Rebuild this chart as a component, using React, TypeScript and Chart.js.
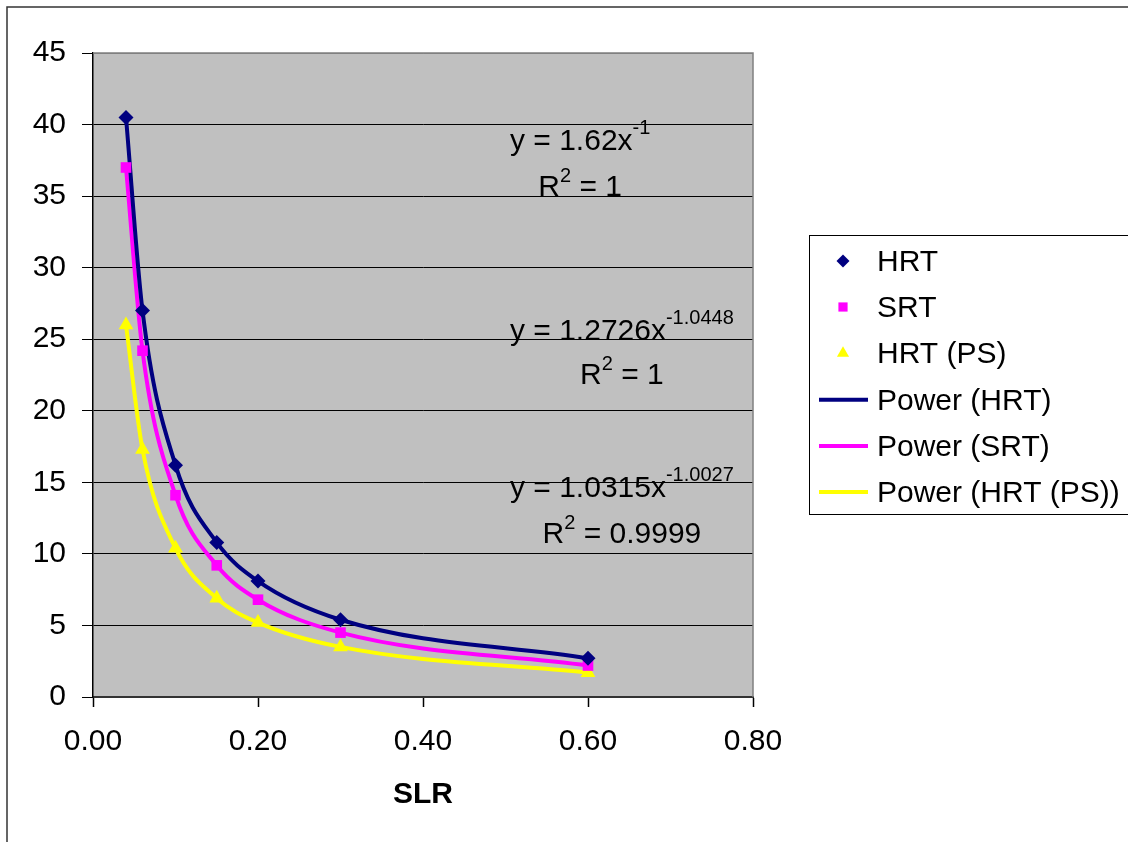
import React, { useEffect, useRef } from "react";
import { Chart, registerables } from "chart.js";

Chart.register(...registerables);

// ---- data ----
const slr = [0.04, 0.06, 0.1, 0.15, 0.2, 0.3, 0.6];
const hrt = [40.5, 27.0, 16.2, 10.8, 8.1, 5.4, 2.7];
const srt = [37.0, 24.2, 14.1, 9.2, 6.8, 4.5, 2.2];
const hrtPs = [26.0, 17.3, 10.4, 6.9, 5.2, 3.5, 1.7];

const xTicks = [0, 0.2, 0.4, 0.6, 0.8];
const yTicks = [0, 5, 10, 15, 20, 25, 30, 35, 40, 45];

const seriesNames = ["HRT", "SRT", "HRT (PS)"];
const trendNames = ["Power (HRT)", "Power (SRT)", "Power (HRT (PS))"];
const eqMain = ["y = 1.62x", "y = 1.2726x", "y = 1.0315x"];
const eqExp = ["-1", "-1.0448", "-1.0027"];
const eqR2 = ["1", "1", "0.9999"];
const xTitle = "SLR";

// ---- styles ----
const FONT = "'Liberation Sans', Arial, Helvetica, sans-serif";
const colors = ["#000080", "#FF00FF", "#FFFF00"];
const markers = ["rectRot", "rect", "triangle"];
const markerRadius = [7.5, 7.5, 8.5];
const eqPos = [
  { x: 510, y: 150, r2y: 196 },
  { x: 510, y: 340, r2y: 384 },
  { x: 510, y: 497, r2y: 543 },
];
const legendRows = [271, 317, 363.3, 409.7, 456, 502];

function drawMarker(ctx: CanvasRenderingContext2D, style: string, x: number, y: number, r: number, color: string) {
  ctx.save();
  ctx.fillStyle = color;
  ctx.beginPath();
  if (style === "rectRot") {
    ctx.moveTo(x, y - r);
    ctx.lineTo(x + r, y);
    ctx.lineTo(x, y + r);
    ctx.lineTo(x - r, y);
  } else if (style === "rect") {
    const s = r * Math.SQRT1_2;
    ctx.rect(x - s, y - s, 2 * s, 2 * s);
  } else {
    const h = r * 1.5;
    ctx.moveTo(x, y - r);
    ctx.lineTo(x + r * 0.866, y + h - r);
    ctx.lineTo(x - r * 0.866, y + h - r);
  }
  ctx.closePath();
  ctx.fill();
  ctx.restore();
}

const decorPlugin = {
  id: "decor",
  beforeDraw(chart: any) {
    const { ctx, chartArea: a, width, height } = chart;
    ctx.save();
    ctx.fillStyle = "#ffffff";
    ctx.fillRect(0, 0, width, height);
    ctx.fillStyle = "#C0C0C0";
    ctx.fillRect(a.left, a.top, a.right - a.left, a.bottom - a.top);
    // outer frame
    ctx.strokeStyle = "#333333";
    ctx.lineWidth = 1.5;
    ctx.strokeRect(7, 7, width + 50, height + 50);
    ctx.restore();
  },
  afterDraw(chart: any) {
    const { ctx, chartArea: a } = chart;
    ctx.save();
    // plot border (top/right gray)
    ctx.strokeStyle = "#808080";
    ctx.lineWidth = 1.5;
    ctx.beginPath();
    ctx.moveTo(a.left, a.top);
    ctx.lineTo(a.right, a.top);
    ctx.lineTo(a.right, a.bottom);
    ctx.stroke();

    // equations
    ctx.fillStyle = "#000";
    ctx.textBaseline = "alphabetic";
    ctx.textAlign = "left";
    for (let i = 0; i < eqMain.length; i++) {
      const p = eqPos[i];
      ctx.font = `30px ${FONT}`;
      const w1 = ctx.measureText(eqMain[i]).width;
      ctx.fillText(eqMain[i], p.x, p.y);
      ctx.font = `20px ${FONT}`;
      const w2 = ctx.measureText(eqExp[i]).width;
      ctx.fillText(eqExp[i], p.x + w1, p.y - 16);
      const center = p.x + (w1 + w2) / 2;
      // R^2 line
      ctx.font = `30px ${FONT}`;
      const wR = ctx.measureText("R").width;
      const rest = " = " + eqR2[i];
      const wRest = ctx.measureText(rest).width;
      ctx.font = `20px ${FONT}`;
      const w2s = ctx.measureText("2").width;
      const total = wR + w2s + wRest;
      const x0 = center - total / 2;
      ctx.font = `30px ${FONT}`;
      ctx.fillText("R", x0, p.r2y);
      ctx.font = `20px ${FONT}`;
      ctx.fillText("2", x0 + wR, p.r2y - 14);
      ctx.font = `30px ${FONT}`;
      ctx.fillText(rest, x0 + wR + w2s, p.r2y);
    }

    // legend
    ctx.strokeStyle = "#000";
    ctx.lineWidth = 1;
    ctx.strokeRect(809.5, 235.5, 500, 279);
    ctx.font = `30px ${FONT}`;
    const names = [...seriesNames, ...trendNames];
    names.forEach((name, i) => {
      const base = legendRows[i];
      const cy = base - 10;
      if (i < 3) {
        drawMarker(ctx, markers[i], 843, cy, i === 2 ? 7 : 6.5, colors[i]);
      } else {
        ctx.strokeStyle = colors[i - 3];
        ctx.lineWidth = 4;
        ctx.beginPath();
        ctx.moveTo(819, cy);
        ctx.lineTo(868, cy);
        ctx.stroke();
      }
      ctx.fillStyle = "#000";
      ctx.fillText(name, 877, base);
    });
    ctx.restore();
  },
};

const pts = (ys: number[]) => slr.map((x, i) => ({ x, y: ys[i] }));

export default function App() {
  const ref = useRef<HTMLCanvasElement | null>(null);
  useEffect(() => {
    if (!ref.current) return;
    Chart.defaults.font.family = FONT;
    const seriesData = [hrt, srt, hrtPs];
    const markerSets = seriesData.map((ys, i) => ({
      label: seriesNames[i],
      data: pts(ys),
      showLine: false,
      pointStyle: markers[i],
      pointRadius: markerRadius[i],
      backgroundColor: colors[i],
      borderColor: colors[i],
      borderWidth: 0,
    }));
    const trendSets = seriesData.map((ys, i) => ({
      label: trendNames[i],
      data: pts(ys),
      showLine: true,
      pointRadius: 0,
      borderColor: colors[i],
      borderWidth: 4,
      cubicInterpolationMode: "monotone",
      fill: false,
    }));
    const chart = new Chart(ref.current, {
      type: "scatter",
      data: { datasets: [...markerSets, ...trendSets] as any },
      options: {
        animation: false,
        responsive: false,
        devicePixelRatio: 1,
        layout: { padding: { top: 53, right: 375, left: 0, bottom: 0 } },
        plugins: { legend: { display: false }, tooltip: { enabled: false } },
        scales: {
          x: {
            type: "linear",
            min: 0,
            max: 0.8,
            afterBuildTicks: (s: any) => {
              s.ticks = xTicks.map((v) => ({ value: v }));
            },
            afterFit: (s: any) => {
              s.height = 145;
            },
            ticks: {
              padding: 17,
              color: "#000",
              font: { size: 30 },
              maxRotation: 0,
              callback: (v: any) => Number(v).toFixed(2),
            },
            grid: { drawOnChartArea: false, drawTicks: true, tickLength: 10, tickColor: "#000", tickWidth: 1.5 },
            border: { color: "#333", width: 2 },
            title: {
              display: true,
              text: xTitle,
              color: "#000",
              font: { size: 30, weight: "bold" },
              padding: { top: 0, bottom: 29 },
            },
          },
          y: {
            type: "linear",
            min: 0,
            max: 45,
            afterBuildTicks: (s: any) => {
              s.ticks = yTicks.map((v) => ({ value: v }));
            },
            afterFit: (s: any) => {
              s.width = 93;
            },
            ticks: { padding: 16, color: "#000", font: { size: 30 } },
            grid: {
              color: (c: any) => (c.tick && c.tick.value === 45 ? "#808080" : "#000"),
              lineWidth: 1,
              drawTicks: true,
              tickLength: 11,
              tickColor: "#000",
            },
            border: { color: "#000", width: 1.5 },
          },
        },
      },
      plugins: [decorPlugin],
    } as any);
    return () => chart.destroy();
  }, []);
  return (
    <div style={{ position: "fixed", left: 0, top: 0, width: 1128, height: 842, background: "#fff" }}>
      <canvas ref={ref} width={1128} height={842} style={{ display: "block", width: 1128, height: 842 }} />
    </div>
  );
}
